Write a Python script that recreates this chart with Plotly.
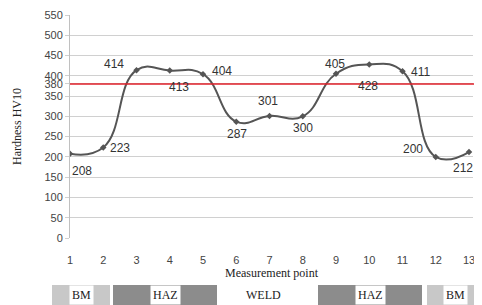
import plotly.graph_objects as go

points = list(range(1, 14))
hardness = [208, 223, 414, 413, 404, 287, 301, 300, 405, 428, 411, 200, 212]
y_ticks = [0, 50, 100, 150, 200, 250, 300, 350, 380, 400, 450, 500, 550]
limit_value = 380
zones = ["BM", "HAZ", "WELD", "HAZ", "BM"]

OFF = 8  # page body margin
W, H = 482 - OFF, 305 - OFF
L, R, T, B = 70 - OFF, 9, 15 - OFF, 67
pw, ph = W - L - R, H - T - B

def px(x):
    return (x - OFF - L) / pw

def py(y):
    return (H - B - (y - OFF)) / ph

fig = go.Figure()
fig.add_trace(go.Scatter(
    x=points, y=hardness, mode="lines+markers",
    line=dict(color="#555555", width=2, shape="spline", smoothing=1.3),
    marker=dict(color="#555555", size=5, symbol="diamond"),
    hoverinfo="skip", showlegend=False))

fig.add_shape(type="line", xref="paper", yref="y", x0=0, x1=px(479),
              y0=limit_value, y1=limit_value, line=dict(color="#e0202a", width=1.5))

# label offsets (pixels, dx right, dy down)
offs = [(12, 17), (17, 0), (-23, -6), (9, 16), (19, -3), (1, 12), (-2, -15),
        (0, 12), (-1, -10), (-1, 22), (18, 1), (-23, -8), (-6, 16)]
for x, v, (dx, dy) in zip(points, hardness, offs):
    fig.add_annotation(x=x, y=v, text=str(v), showarrow=False, xshift=dx, yshift=-dy,
                       font=dict(family="Liberation Sans, Arial", size=12, color="#333333"))

# zone band
shapes = [(52, 110, "#c8c8c8"), (113, 217, "#8c8c8c"), (318, 422, "#8c8c8c"), (427, 482, "#c8c8c8")]
for x0, x1, c in shapes:
    fig.add_shape(type="rect", xref="paper", yref="paper", x0=px(x0), x1=px(x1),
                  y0=py(305), y1=py(285), fillcolor=c, line=dict(width=0), layer="above")
zone_x = [81, 165, 263, 370, 455]
for zx, zt in zip(zone_x, zones):
    fig.add_annotation(xref="paper", yref="paper", x=px(zx), y=py(295), text=zt,
                       showarrow=False, xanchor="center", yanchor="middle",
                       bgcolor="white" if zt != "WELD" else None,
                       borderpad=2,
                       font=dict(family="Liberation Serif, Times New Roman", size=12, color="#222222"))

fig.update_layout(
    width=W, height=H, margin=dict(l=L, r=R, t=T, b=B, autoexpand=False),
    paper_bgcolor="white", plot_bgcolor="white",
    xaxis=dict(range=[1, 13.12], tickmode="array", tickvals=points, showgrid=False,
               zeroline=False, showline=False, ticks="outside", ticklen=12,
               tickcolor="rgba(0,0,0,0)", automargin=False,
               tickfont=dict(family="Liberation Sans, Arial", size=11, color="#444444"),
               title=dict(text="Measurement point", standoff=0,
                          font=dict(family="Liberation Serif, Times New Roman", size=12, color="#222222"))),
    yaxis=dict(range=[0, 550], tickmode="array", tickvals=y_ticks, showgrid=True,
               gridcolor="#d0d0d0", gridwidth=1, zeroline=False,
               showline=True, linecolor="#c0c0c0", linewidth=1,
               ticks="outside", ticklen=4, tickcolor="#d0d0d0", automargin=False,
               tickfont=dict(family="Liberation Sans, Arial", size=11, color="#444444"),
               title=dict(text="Hardness HV10", standoff=20,
                          font=dict(family="Liberation Serif, Times New Roman", size=12, color="#222222"))),
)
fig.write_html("out.html")
